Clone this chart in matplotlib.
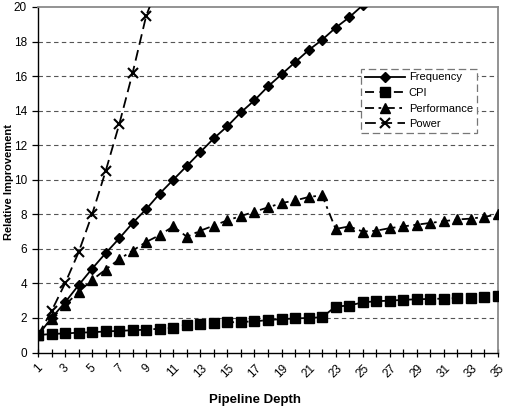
import matplotlib
matplotlib.use("Agg")
import matplotlib.pyplot as plt
from matplotlib import font_manager
import numpy as np

names = {f.name for f in font_manager.fontManager.ttflist}
NARROW = 'Liberation Sans Narrow' if 'Liberation Sans Narrow' in names else 'Liberation Sans'
plt.rcParams['font.family'] = ['Liberation Sans', 'DejaVu Sans']

depth = list(range(1, 36))

frequency = [1.0, 2.0, 2.9, 3.9, 4.85, 5.75, 6.6, 7.5, 8.3, 9.2, 10.0, 10.8, 11.6, 12.4,
             13.1, 13.9, 14.6, 15.4, 16.1, 16.8, 17.5, 18.1, 18.8, 19.4, 20.1, 20.7,
             None, None, None, None, None, None, None, None, None]
cpi = [1.0, 1.08, 1.1, 1.15, 1.17, 1.22, 1.25, 1.29, 1.32, 1.38, 1.42, 1.62, 1.66, 1.72,
       1.74, 1.77, 1.8, 1.88, 1.93, 1.97, 2.0, 2.04, 2.66, 2.72, 2.9, 2.97, 3.0, 3.05,
       3.08, 3.1, 3.12, 3.15, 3.17, 3.2, 3.25]
performance = [1.0, 1.95, 2.75, 3.5, 4.2, 4.8, 5.4, 5.9, 6.4, 6.8, 7.3, 6.7, 7.05, 7.35,
               7.65, 7.9, 8.15, 8.4, 8.65, 8.8, 9.0, 9.1, 7.15, 7.3, 7.0, 7.05, 7.2, 7.3,
               7.4, 7.5, 7.6, 7.7, 7.75, 7.85, 8.0]
power = [1.0, 2.4, 4.0, 5.8, 8.0, 10.5, 13.2, 16.2, 19.5, 21.5,
         None, None, None, None, None, None, None, None, None, None, None, None, None,
         None, None, None, None, None, None, None, None, None, None, None, None]

xtick_labels = [str(v) for v in range(1, 36, 2)]
yticks = list(range(0, 21, 2))

def arr(v):
    return np.array([np.nan if a is None else a for a in v], dtype=float)

fig = plt.figure(figsize=(5.08, 4.07), dpi=100)
ax = fig.add_axes([38/508, 1 - 352.5/407, 460/508, 345.5/407])

for y in yticks[1:-1]:
    ax.axhline(y, color='#555555', lw=0.8, ls=(0, (4, 3)), zorder=1)

ax.plot(depth, arr(frequency), color='black', lw=1.3, ls='-', marker='D', ms=5,
        label='Frequency', zorder=4)
ax.plot(depth, arr(cpi), color='black', lw=1.3, ls=(0, (5, 3)), marker='s', ms=6.5,
        label='CPI', zorder=4)
ax.plot(depth, arr(performance), color='black', lw=1.3, ls=(0, (5, 2.5, 1.5, 2.5)),
        marker='^', ms=7, label='Performance', zorder=4)
ax.plot(depth, arr(power), color='black', lw=1.3, ls=(0, (6, 3)), marker='x', ms=7,
        mew=1.5, label='Power', zorder=4)

ax.set_xlim(1, 35)
ax.set_ylim(0, 20)
ax.set_xticks(depth)
labels = {int(t): t for t in xtick_labels}
ax.set_xticklabels([labels.get(d, '') for d in depth], rotation=45,
                   ha='center', fontsize=8.5)
ax.set_yticks(yticks)
ax.set_yticklabels([str(y) for y in yticks], fontsize=8.5, family=[NARROW, 'Liberation Sans'])
ax.tick_params(axis='x', direction='inout', length=6, width=0.9, pad=4)
ax.tick_params(axis='y', direction='out', length=4, width=0.9, pad=4)

for s in ['top', 'right']:
    ax.spines[s].set_color('#8a8a8a')
    ax.spines[s].set_linewidth(1.3)
for s in ['left', 'bottom']:
    ax.spines[s].set_color('black')
    ax.spines[s].set_linewidth(1.0)

fig.text(9/508, 1 - 182/407, 'Relative Improvement', fontsize=8, fontweight='bold',
         ha='center', va='center', rotation=90)
fig.text(255/508, 1 - 400/407, 'Pipeline Depth', fontsize=9.5, fontweight='bold',
         ha='center', va='center', family=[NARROW, 'Liberation Sans'])

leg = ax.legend(loc='upper left', bbox_to_anchor=(0.691, 0.838), fontsize=8,
                handlelength=3.6, handletextpad=0.3, labelspacing=0.5,
                borderpad=0.35, fancybox=False, framealpha=1, edgecolor='#777777')
leg.get_frame().set_linestyle((0, (6, 3)))
leg.get_frame().set_linewidth(0.9)
leg.set_zorder(6)

fig.savefig('out.png', dpi=100)
